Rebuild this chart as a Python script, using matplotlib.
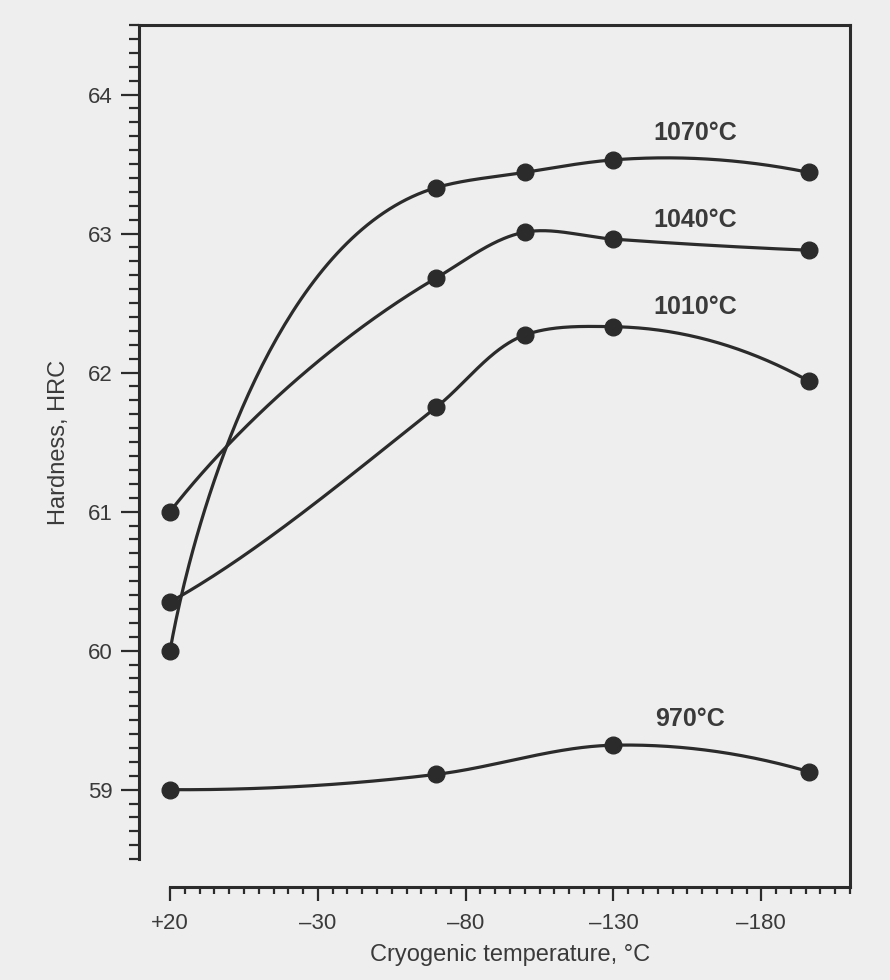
import numpy as np
import matplotlib
matplotlib.use('Agg')
import matplotlib.pyplot as plt
from matplotlib.ticker import FixedLocator

# cryogenic treatment temperature (deg C) and hardness (HRC) per austenitising temperature
temp_4 = [20, -70, -100, -130, -196]
temp_3 = [20, -70, -130, -196]

hrc_1070 = [60.0, 63.33, 63.44, 63.53, 63.44]
hrc_1040 = [61.0, 62.68, 63.01, 62.96, 62.88]
hrc_1010 = [60.35, 61.75, 62.27, 62.33, 61.94]
hrc_970 = [59.0, 59.11, 59.32, 59.13]

series_names = ['1070°C', '1040°C', '1010°C', '970°C']
label_x = [-157.5, -157.5, -157.5, -156]
label_y = [63.72, 63.10, 62.47, 59.51]

x_major = [20, -30, -80, -130, -180]
x_major_labels = ['+20', '–30', '–80', '–130', '–180']
y_major = [59, 60, 61, 62, 63, 64]

INK = '#2b2b2b'
TEXT = '#3a3a3a'
BG = '#eeeeee'

# rough px per unit of the drawing, so the curve is smoothed as it looks on paper
SX = 2.957
SY = 139.0


def smooth_curve(x, y, start_angle=None, start_len=0.9, n=80):
    # parametric cubic hermite through the points, chord length parameter
    P = np.column_stack((-np.asarray(x, float) * SX, np.asarray(y, float) * SY))
    seg = np.diff(P, axis=0)
    h = np.linalg.norm(seg, axis=1)
    d = seg / h[:, None]
    T = np.zeros_like(P)
    for i in range(1, len(P) - 1):
        T[i] = (d[i - 1] * h[i] + d[i] * h[i - 1]) / (h[i - 1] + h[i])
    T[0] = ((2 * h[0] + h[1]) * d[0] - h[0] * d[1]) / (h[0] + h[1])
    T[-1] = ((2 * h[-1] + h[-2]) * d[-1] - h[-1] * d[-2]) / (h[-1] + h[-2])
    if start_angle is not None:
        a = np.radians(start_angle)
        T[0] = start_len * np.array([np.cos(a), np.sin(a)])
    pts = []
    u = np.linspace(0, 1, n)[:, None]
    h00 = 2 * u**3 - 3 * u**2 + 1
    h10 = u**3 - 2 * u**2 + u
    h01 = -2 * u**3 + 3 * u**2
    h11 = u**3 - u**2
    for i in range(len(h)):
        pts.append(h00 * P[i] + h10 * h[i] * T[i] + h01 * P[i + 1] + h11 * h[i] * T[i + 1])
    pts = np.vstack(pts)
    return -pts[:, 0] / SX, pts[:, 1] / SY


def draw_series(ax, x, y, start_angle=None, start_len=0.9):
    cx, cy = smooth_curve(x, y, start_angle, start_len)
    ax.plot(cx, cy, color=INK, lw=2.3, solid_capstyle='round', zorder=2)
    ax.plot(x, y, 'o', color=INK, ms=12, zorder=3)


if __name__ == '__main__':
    plt.rcParams['font.family'] = ['Liberation Sans', 'DejaVu Sans']

    fig = plt.figure(figsize=(8.9, 9.8), dpi=100, facecolor=BG)
    ax = fig.add_axes([139 / 890, 1 - 887 / 980, 711 / 890, 862 / 980])
    ax.set_facecolor(BG)

    draw_series(ax, temp_4, hrc_1070, start_angle=80, start_len=0.72)
    draw_series(ax, temp_4, hrc_1040, start_angle=52)
    draw_series(ax, temp_4, hrc_1010, start_angle=29)
    draw_series(ax, temp_3, hrc_970)

    for name, lx, ly in zip(series_names, label_x, label_y):
        ax.text(lx, ly, name, ha='center', va='center', fontsize=18,
                fontweight='bold', color=TEXT)

    ax.set_xlim(30.5, -210)
    ax.set_ylim(58.30, 64.5)

    for side in ['left', 'right', 'top', 'bottom']:
        ax.spines[side].set_linewidth(2.2)
        ax.spines[side].set_color(INK)
    ax.spines['left'].set_bounds(58.5, 64.5)
    ax.spines['bottom'].set_bounds(-210, 20)

    ax.xaxis.set_major_locator(FixedLocator(x_major))
    ax.xaxis.set_minor_locator(FixedLocator(np.arange(-210, 21, 5)))
    ax.set_xticklabels(x_major_labels)
    ax.yaxis.set_major_locator(FixedLocator(y_major))
    ax.yaxis.set_minor_locator(FixedLocator(np.round(np.arange(58.5, 64.51, 0.1), 1)))
    ax.set_yticklabels([str(v) for v in y_major])

    ax.tick_params(axis='y', which='major', direction='out', length=13, width=1.6,
                   color=INK, labelsize=16, labelcolor=TEXT, pad=6)
    ax.tick_params(axis='y', which='minor', direction='out', length=7, width=1.6, color=INK)
    ax.tick_params(axis='x', which='major', direction='out', length=10, width=1.6,
                   color=INK, labelsize=16, labelcolor=TEXT, pad=9)
    ax.tick_params(axis='x', which='minor', direction='out', length=5, width=1.6, color=INK)

    ax.set_ylabel('Hardness, HRC', fontsize=17, color=TEXT)
    ax.yaxis.set_label_coords(-0.097, (64.5 + 58.5) / 2, transform=ax.get_yaxis_transform())
    ax.text((20 - 210) / 2, -0.079, 'Cryogenic temperature, °C', transform=ax.get_xaxis_transform(),
            ha='center', va='center', fontsize=17, color=TEXT)

    fig.savefig('out.png', dpi=100, facecolor=BG)
